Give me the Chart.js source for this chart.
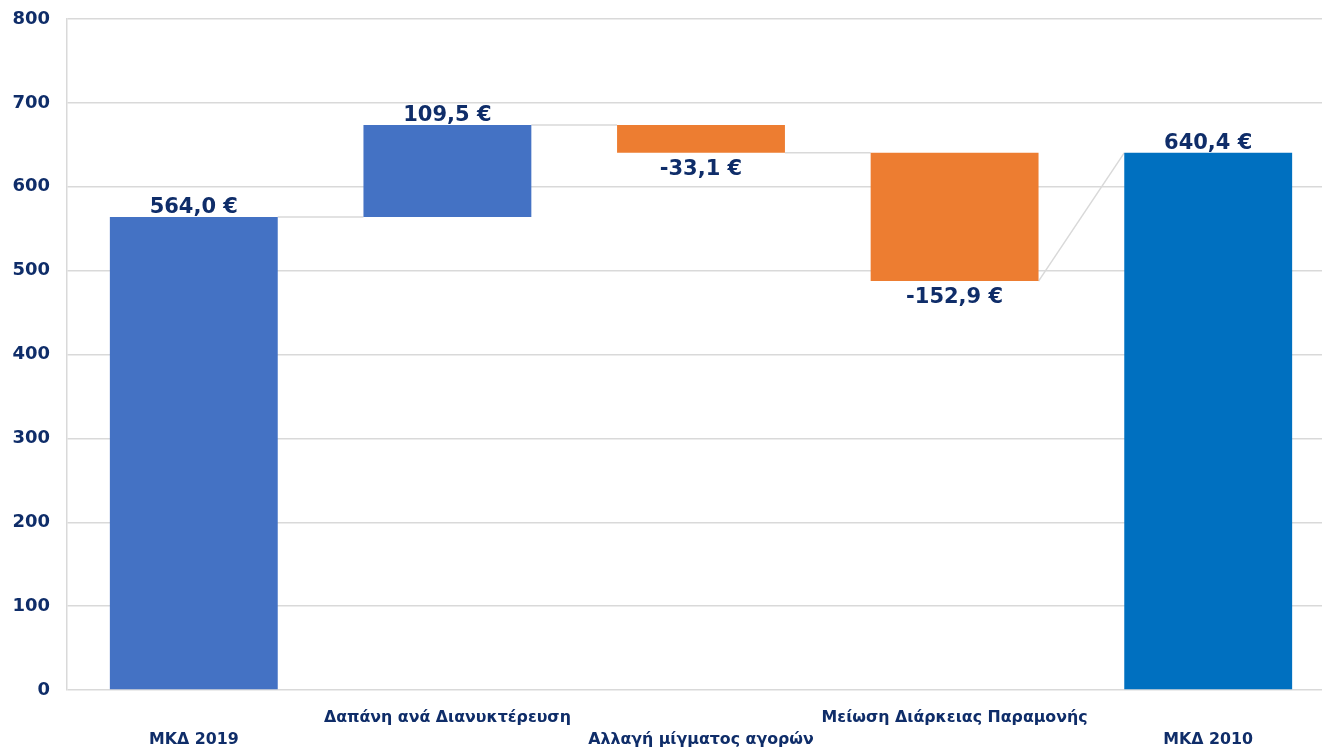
<!DOCTYPE html>
<html>
<head>
<meta charset="utf-8">
<script src="https://cdn.jsdelivr.net/npm/chart.js@4.4.1/dist/chart.umd.min.js"></script>
<style>
  html, body { margin: 0; padding: 0; background: #ffffff; overflow: hidden; }
  #wrap { width: 1336px; height: 747px; position: relative; }
</style>
</head>
<body>
<div id="wrap"><canvas id="c"></canvas></div>
<script>
// ---- data ----
const categories = [
  ['', 'ΜΚΔ 2019'],
  ['Δαπάνη ανά Διανυκτέρευση', ''],
  ['', 'Αλλαγή μίγματος αγορών'],
  ['Μείωση Διάρκειας Παραμονής', ''],
  ['', 'ΜΚΔ 2010']
];
const changes = [564.0, 109.5, -33.1, -152.9, 640.4];
const isTotal = [true, false, false, false, true];
const barStart = [0, 564.0, 673.5, 640.4, 0];
const barEnd = [564.0, 673.5, 640.4, 487.5, 640.4];
const barColors = ['#4472C4', '#4472C4', '#ED7D31', '#ED7D31', '#0070C0'];
const yTicks = [0, 100, 200, 300, 400, 500, 600, 700, 800];

const textColor = '#0f2d69';
const gridColor = '#d9d9d9';
const fontFamily = '"DejaVu Sans", Verdana, sans-serif';

function fmt(v) {
  return v.toFixed(1).replace('.', ',') + ' €';
}

const floating = barStart.map((s, i) => [s, barEnd[i]]);

const connectorPlugin = {
  id: 'connectors',
  beforeDatasetsDraw(chart) {
    const meta = chart.getDatasetMeta(0);
    const y = chart.scales.y;
    const ctx = chart.ctx;
    ctx.save();
    ctx.strokeStyle = gridColor;
    ctx.lineWidth = 1.5;
    for (let i = 0; i < meta.data.length - 1; i++) {
      const a = meta.data[i], b = meta.data[i + 1];
      const levelA = barEnd[i];
      const levelB = isTotal[i + 1] ? barEnd[i + 1] : barStart[i + 1];
      ctx.beginPath();
      ctx.moveTo(a.x + a.width / 2, y.getPixelForValue(levelA));
      ctx.lineTo(b.x - b.width / 2, y.getPixelForValue(levelB));
      ctx.stroke();
    }
    ctx.restore();
  }
};

const labelPlugin = {
  id: 'valueLabels',
  afterDatasetsDraw(chart) {
    const meta = chart.getDatasetMeta(0);
    const y = chart.scales.y;
    const ctx = chart.ctx;
    ctx.save();
    ctx.fillStyle = textColor;
    ctx.font = 'bold 21px ' + fontFamily;
    ctx.textAlign = 'center';
    meta.data.forEach((bar, i) => {
      const v = changes[i];
      const top = Math.max(barStart[i], barEnd[i]);
      const bottom = Math.min(barStart[i], barEnd[i]);
      if (v >= 0) {
        ctx.textBaseline = 'bottom';
        ctx.fillText(fmt(v), bar.x, y.getPixelForValue(top) + 1);
      } else {
        ctx.textBaseline = 'top';
        ctx.fillText(fmt(v), bar.x, y.getPixelForValue(bottom) + 6);
      }
    });
    ctx.restore();
  }
};

new Chart(document.getElementById('c'), {
  type: 'bar',
  data: {
    labels: categories,
    datasets: [{
      data: floating,
      backgroundColor: barColors,
      borderWidth: 0,
      borderSkipped: false,
      categoryPercentage: 1.0,
      barPercentage: 0.662
    }]
  },
  options: {
    responsive: true,
    maintainAspectRatio: false,
    animation: false,
    layout: { padding: { top: 19, right: 1, left: 0, bottom: 0 } },
    plugins: {
      legend: { display: false },
      tooltip: { enabled: false }
    },
    scales: {
      x: {
        grid: { display: false, drawTicks: false },
        border: { display: false },
        ticks: {
          color: textColor,
          font: { family: fontFamily, weight: 'bold', size: 15.8, lineHeight: 1.35 },
          padding: 17.5,
          maxRotation: 0,
          autoSkip: false
        },
        afterFit(scale) { scale.height = 57; }
      },
      y: {
        min: 0,
        max: 800,
        afterBuildTicks(scale) { scale.ticks = yTicks.map(v => ({ value: v })); },
        grid: { color: gridColor, lineWidth: 1.5, drawTicks: false },
        border: { display: true, color: gridColor, width: 1.5 },
        ticks: {
          color: textColor,
          font: { family: fontFamily, weight: 'bold', size: 18 },
          padding: 17
        },
        afterFit(scale) {
          scale.width = 67;
          scale.paddingTop = 0;
          scale.paddingBottom = 0;
        }
      }
    }
  },
  plugins: [connectorPlugin, labelPlugin]
});
</script>
</body>
</html>
